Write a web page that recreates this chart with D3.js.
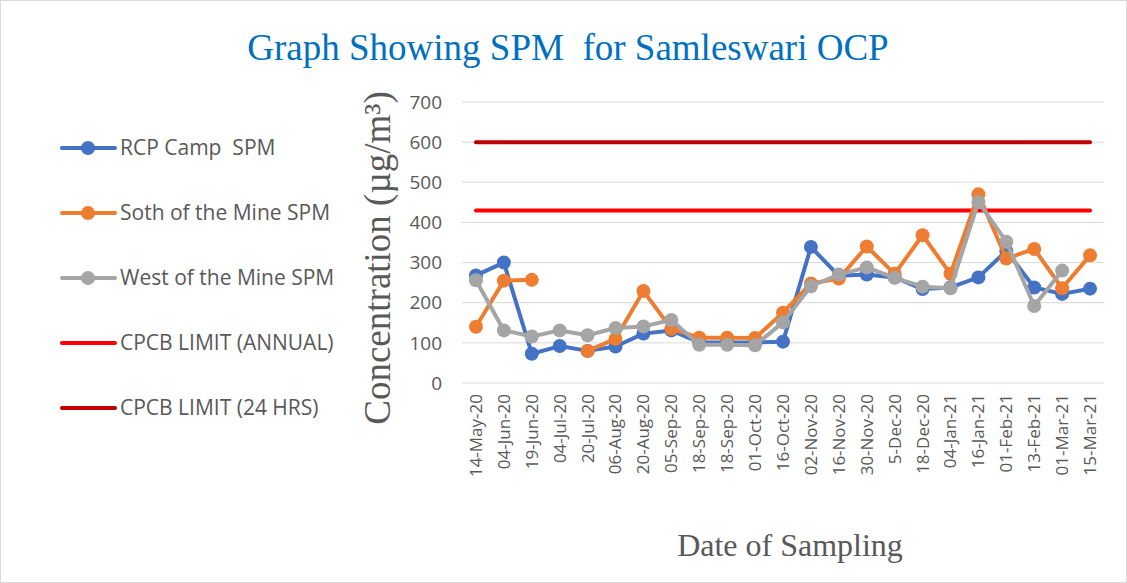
<!DOCTYPE html>
<html>
<head>
<meta charset="utf-8">
<script src="https://cdn.jsdelivr.net/npm/d3@7"></script>
<style>
  body { margin: 0; background: #fff; }
  text { font-family: "Open Sans", "Liberation Sans", sans-serif; white-space: pre; }
</style>
</head>
<body>
<div id="chart"></div>
<script>

// sampling dates (x categories)
var dates = ["14-May-20", "04-Jun-20", "19-Jun-20", "04-Jul-20", "20-Jul-20", "06-Aug-20",
    "20-Aug-20", "05-Sep-20", "18-Sep-20", "18-Sep-20", "01-Oct-20", "16-Oct-20",
    "02-Nov-20", "16-Nov-20", "30-Nov-20", "5-Dec-20", "18-Dec-20", "04-Jan-21",
    "16-Jan-21", "01-Feb-21", "13-Feb-21", "01-Mar-21", "15-Mar-21"];

var rcpCamp = [268, 300, 73, 92, 80, 91, 123, 131, 101, 101, 101, 103,
    339, 267, 270, 263, 234, 238, 263, 329, 238, 222, 235];
var southMine = [140, 255, 257, null, 80, 110, 229, 135, 113, 113, 112, 175,
    248, 260, 340, 272, 368, 272, 470, 310, 334, 236, 318];
var westMine = [256, 131, 116, 131, 119, 137, 141, 157, 95, 95, 94, 151,
    241, 270, 288, 262, 240, 236, 451, 352, 192, 280, null];

var limitAnnual = 430;
var limit24 = 600;
var yTicks = [0, 100, 200, 300, 400, 500, 600, 700];

var series = [
    {name: "RCP Camp  SPM", values: rcpCamp, color: "#4472C4"},
    {name: "Soth of the Mine SPM", values: southMine, color: "#ED7D31"},
    {name: "West of the Mine SPM", values: westMine, color: "#A5A5A5"}
];
var limits = [
    {name: "CPCB LIMIT (ANNUAL)", value: limitAnnual, color: "#FF0000"},
    {name: "CPCB LIMIT (24 HRS)", value: limit24, color: "#C00000"}
];

var width = 1127, height = 583;
var plotLeft = 462, plotRight = 1104, plotTop = 102, plotBottom = 383;

var svg = d3.select("#chart").append("svg")
    .attr("width", width)
    .attr("height", height);

svg.append("rect")
    .attr("x", 0.5).attr("y", 0.5)
    .attr("width", width - 1).attr("height", height - 1)
    .attr("fill", "#fff")
    .attr("stroke", "#d9d9d9");

var x = d3.scaleBand()
    .domain(d3.range(dates.length))
    .range([plotLeft, plotRight]);
var y = d3.scaleLinear()
    .domain([0, 700])
    .range([plotBottom, plotTop]);

function cx(i) { return x(i) + x.bandwidth() / 2; }

// gridlines
svg.append("g").selectAll("line")
    .data(yTicks)
    .enter().append("line")
    .attr("x1", plotLeft).attr("x2", plotRight)
    .attr("y1", function(d) { return y(d); })
    .attr("y2", function(d) { return y(d); })
    .attr("stroke", "#d9d9d9")
    .attr("stroke-width", 1);

// y tick labels
svg.append("g").selectAll("text")
    .data(yTicks)
    .enter().append("text")
    .attr("x", plotLeft - 20)
    .attr("y", function(d) { return y(d); })
    .attr("dy", "0.35em")
    .attr("text-anchor", "end")
    .attr("font-size", 19)
    .attr("fill", "#595959")
    .text(function(d) { return d; });

// x tick labels
svg.append("g").selectAll("text")
    .data(dates)
    .enter().append("text")
    .attr("transform", function(d, i) {
        return "translate(" + cx(i) + "," + (plotBottom + 11) + ") rotate(-90)";
    })
    .attr("dy", "0.35em")
    .attr("text-anchor", "end")
    .attr("font-size", 17)
    .attr("fill", "#595959")
    .text(function(d) { return d; });

// limit lines
svg.append("g").selectAll("line")
    .data(limits)
    .enter().append("line")
    .attr("x1", cx(0)).attr("x2", cx(dates.length - 1))
    .attr("y1", function(d) { return y(d.value); })
    .attr("y2", function(d) { return y(d.value); })
    .attr("stroke", function(d) { return d.color; })
    .attr("stroke-width", 4)
    .attr("stroke-linecap", "round");

var line = d3.line()
    .defined(function(d) { return d != null; })
    .x(function(d, i) { return cx(i); })
    .y(function(d) { return y(d); });

series.forEach(function(s) {
    var g = svg.append("g");
    g.append("path")
        .attr("d", line(s.values))
        .attr("fill", "none")
        .attr("stroke", s.color)
        .attr("stroke-width", 4)
        .attr("stroke-linejoin", "round");
    g.selectAll("circle")
        .data(s.values.map(function(v, i) { return {v: v, i: i}; })
            .filter(function(d) { return d.v != null; }))
        .enter().append("circle")
        .attr("cx", function(d) { return cx(d.i); })
        .attr("cy", function(d) { return y(d.v); })
        .attr("r", 7)
        .attr("fill", s.color);
});

// legend
var legendItems = series.map(function(s) { return {name: s.name, color: s.color, marker: true}; })
    .concat(limits.map(function(l) { return {name: l.name, color: l.color, marker: false}; }));

var legend = svg.append("g").selectAll("g")
    .data(legendItems)
    .enter().append("g")
    .attr("transform", function(d, i) { return "translate(0," + (148 + i * 65) + ")"; });

legend.append("line")
    .attr("x1", 62).attr("x2", 115)
    .attr("stroke", function(d) { return d.color; })
    .attr("stroke-width", 4)
    .attr("stroke-linecap", "round");
legend.filter(function(d) { return d.marker; })
    .append("circle")
    .attr("cx", 88)
    .attr("r", 7)
    .attr("fill", function(d) { return d.color; });
legend.append("text")
    .attr("x", 120)
    .attr("dy", "0.35em")
    .attr("font-size", 21)
    .attr("fill", "#595959")
    .text(function(d) { return d.name; });

// titles
svg.append("text")
    .attr("x", 568).attr("y", 60)
    .attr("text-anchor", "middle")
    .style("font-family", "'Liberation Serif', serif")
    .attr("font-size", 37)
    .attr("fill", "#0070C0")
    .text("Graph Showing SPM  for Samleswari OCP");

svg.append("text")
    .attr("transform", "translate(390,258) rotate(-90)")
    .attr("text-anchor", "middle")
    .style("font-family", "'Liberation Serif', serif")
    .attr("font-size", 37)
    .attr("fill", "#595959")
    .text("Concentration (µg/m³)");

svg.append("text")
    .attr("x", 790).attr("y", 556)
    .attr("text-anchor", "middle")
    .style("font-family", "'Liberation Serif', serif")
    .attr("font-size", 32)
    .attr("fill", "#595959")
    .text("Date of Sampling");

</script>
</body>
</html>
